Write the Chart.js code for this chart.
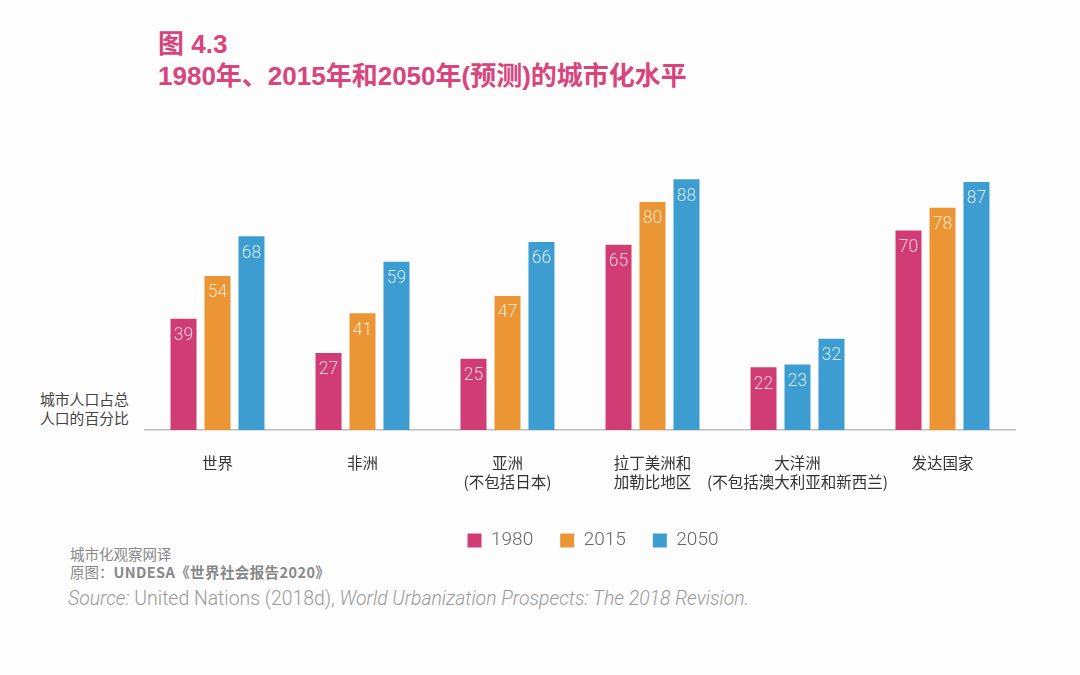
<!DOCTYPE html>
<html>
<head>
<meta charset="utf-8">
<script src="https://cdn.jsdelivr.net/npm/chart.js@4/dist/chart.umd.min.js"></script>
<style>
  body { margin: 0; background: #fdfdfd; width: 1080px; height: 675px; position: relative; overflow: hidden;
         font-family: "Noto Sans CJK SC", "Noto Sans", sans-serif; }
  .t { position: absolute; white-space: nowrap; }
  #chartBox { position: absolute; left: 106px; top: 0; width: 974px; height: 560px; }
</style>
</head>
<body>
<div class="t" style="left:158px;top:23px;font-size:26px;font-weight:700;color:#d9447c;font-family:'Liberation Sans','Noto Sans CJK SC',sans-serif;">图 4.3</div>
<div class="t" style="left:158px;top:55px;font-size:26px;font-weight:700;color:#d9447c;font-family:'Liberation Sans','Noto Sans CJK SC',sans-serif;">1980年、2015年和2050年(预测)的城市化水平</div>
<div class="t" style="left:40px;top:390px;font-size:14.8px;line-height:18.5px;color:#444;">城市人口占总<br>人口的百分比</div>
<div class="t" style="left:70px;top:543px;font-size:14.5px;color:#888;">城市化观察网译</div>
<div class="t" style="left:70px;top:561px;font-size:14.5px;color:#888;">原图：<b style="letter-spacing:0.4px;">UNDESA《世界社会报告2020》</b></div>
<div class="t" style="left:68px;top:587px;font-size:19.4px;color:#9a9a9a;font-family:Roboto,sans-serif;font-weight:300;"><i>Source:</i> United Nations (2018d), <i>World Urbanization Prospects: The 2018 Revision.</i></div>
<div id="chartBox"><canvas id="chart"></canvas></div>
<script>
// categories and values
var categories = [['世界'], ['非洲'], ['亚洲', '(不包括日本)'], ['拉丁美洲和', '加勒比地区'], ['大洋洲', '(不包括澳大利亚和新西兰)'], ['发达国家']];
var years = ['1980', '2015', '2050'];
var urban1980 = [39, 27, 25, 65, 22, 70];
var urban2015 = [54, 41, 47, 80, 23, 78];
var urban2050 = [68, 59, 66, 88, 32, 87];

var pink = '#d23c74', orange = '#ec9535', blue = '#3e9dd0';
var labelTint = { 0: '#f8cfdf', 1: '#fde6c4', 2: '#d3ebf8' };

// the 2015 Oceania bar is blue in the source picture
function color2015(ctx) {
  return (ctx.type === 'data' && ctx.dataIndex === 4) ? blue : orange;
}

var barLabels = {
  id: 'barLabels',
  afterDatasetsDraw: function(chart) {
    var ctx = chart.ctx;
    ctx.save();
    ctx.font = '300 17.5px Roboto, sans-serif';
    ctx.textAlign = 'center';
    ctx.textBaseline = 'middle';
    chart.data.datasets.forEach(function(ds, i) {
      var meta = chart.getDatasetMeta(i);
      meta.data.forEach(function(bar, j) {
        ctx.fillStyle = (i === 1 && j === 4) ? labelTint[2] : labelTint[i];
        ctx.fillText(ds.data[j], bar.x, bar.y + 17);
      });
    });
    ctx.restore();
  }
};

new Chart(document.getElementById('chart'), {
  type: 'bar',
  data: {
    labels: categories,
    datasets: [
      { label: years[0], data: urban1980, backgroundColor: pink },
      { label: years[1], data: urban2015, backgroundColor: color2015 },
      { label: years[2], data: urban2050, backgroundColor: blue }
    ]
  },
  options: {
    responsive: true,
    maintainAspectRatio: false,
    animation: false,
    categoryPercentage: 0.703,
    barPercentage: 0.765,
    layout: { padding: { top: 145, left: 0, right: 0, bottom: 0 } },
    scales: {
      x: {
        grid: { display: false, drawTicks: false },
        border: { display: true, color: '#bdbdbd', width: 1.5 },
        ticks: { padding: 23, color: '#333', maxRotation: 0, autoSkip: false,
                 font: { family: '"Noto Sans CJK SC"', size: 15.5, lineHeight: 1.25 } },
        afterFit: function(scale) { scale.height = 74; }
      },
      y: {
        min: 0, max: 100,
        grid: { display: false }, border: { display: false }, ticks: { display: false },
        afterFit: function(scale) { scale.width = 39; }
      },
      // empty right-hand spacer so the legend centres like the original
      y2: {
        position: 'right',
        grid: { display: false }, border: { display: false }, ticks: { display: false },
        afterFit: function(scale) { scale.width = 65; }
      }
    },
    plugins: {
      legend: {
        position: 'bottom',
        labels: {
          boxWidth: 14, boxHeight: 14, padding: 27, color: '#666',
          font: { family: 'Roboto', weight: '300', size: 19 }
        }
      },
      tooltip: { enabled: false }
    }
  },
  plugins: [barLabels]
});
</script>
</body>
</html>
